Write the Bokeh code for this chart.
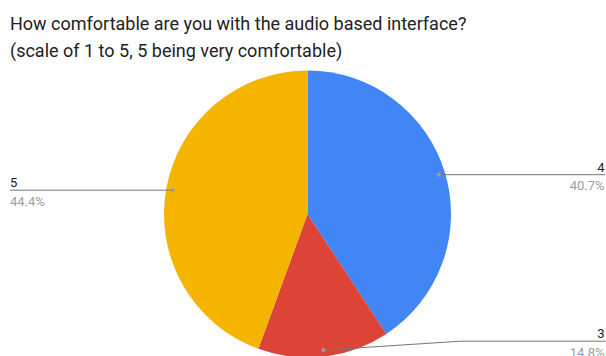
import numpy as np
from bokeh.plotting import figure
from bokeh.models import Range1d
from bokeh.core.properties import value
from bokeh.embed import file_html
from bokeh.resources import INLINE

# ---- data ----
categories = ["4", "3", "5"]
percents = [40.7, 14.8, 44.4]
colors = ["#4285F4", "#DB4437", "#F4B400"]
title_lines = ["How comfortable are you with the audio based interface?",
               "(scale of 1 to 5, 5 being very comfortable)"]

# ---- layout (screen pixels, y measured from top) ----
W, H = 606, 356
cx, cy, R = 307, 213.5, 143.5
r_dot = 0.955 * R
label_side = ["right", "right", "left"]
label_y_override = [None, 340.7, None]   # slice "3" label is pushed up
elbow_x = [None, 460, None]
left_x, right_x = 9.5, 605
text_shift = -4  # compensate baseline rendering

def Y(y):  # screen y -> data y
    return H - y

p = figure(width=W, height=H, output_backend="svg", toolbar_location=None,
           x_range=Range1d(0, W), y_range=Range1d(0, H), min_border=0)
p.axis.visible = False
p.grid.visible = False
p.outline_line_color = None
p.background_fill_color = "white"
p.border_fill_color = "white"

vals = np.array(percents, dtype=float)
frac = vals / vals.sum()
cum = np.concatenate([[0], np.cumsum(frac)])
start = np.pi / 2 - cum[:-1] * 2 * np.pi
end = np.pi / 2 - cum[1:] * 2 * np.pi

p.wedge(x=cx, y=Y(cy), radius=R, start_angle=start, end_angle=end,
        direction="clock", fill_color=colors, line_color=None)

mid = np.pi / 2 - (cum[:-1] + frac / 2) * 2 * np.pi
dx = cx + r_dot * np.cos(mid)
dy = cy - r_dot * np.sin(mid)

font = value("Roboto")
for i, cat in enumerate(categories):
    ly = dy[i] if label_y_override[i] is None else label_y_override[i]
    if label_side[i] == "right":
        if elbow_x[i] is None:
            xs = [dx[i], right_x]; ys = [dy[i], ly]
        else:
            xs = [dx[i], elbow_x[i], right_x]; ys = [dy[i], ly, ly]
        tx, align = right_x - 1, "right"
    else:
        xs = [left_x, dx[i]]; ys = [ly, dy[i]]
        tx, align = left_x, "left"
    p.line(xs, [Y(v) for v in ys], line_color="#757575", line_width=1)
    p.scatter([dx[i]], [Y(dy[i])], size=4, fill_color="#9e9e9e", line_color=None)
    p.text([tx], [Y(ly - 3.5 + text_shift)], text=[cat], text_font=font,
           text_font_size="13px", text_color="#222222", text_align=align,
           text_baseline="alphabetic")
    p.text([tx], [Y(ly + 15 + text_shift)], text=[f"{percents[i]:.1f}%"],
           text_font=font, text_font_size="13px", text_color="#9e9e9e",
           text_align=align, text_baseline="alphabetic")

p.text([9.5, 9.5], [Y(26 - 3), Y(53.3 - 3)], text=title_lines, text_font=font,
       text_font_size="18px", text_color="#222222", text_align="left",
       text_baseline="alphabetic")

open("out.html", "w").write(file_html(p, INLINE))
